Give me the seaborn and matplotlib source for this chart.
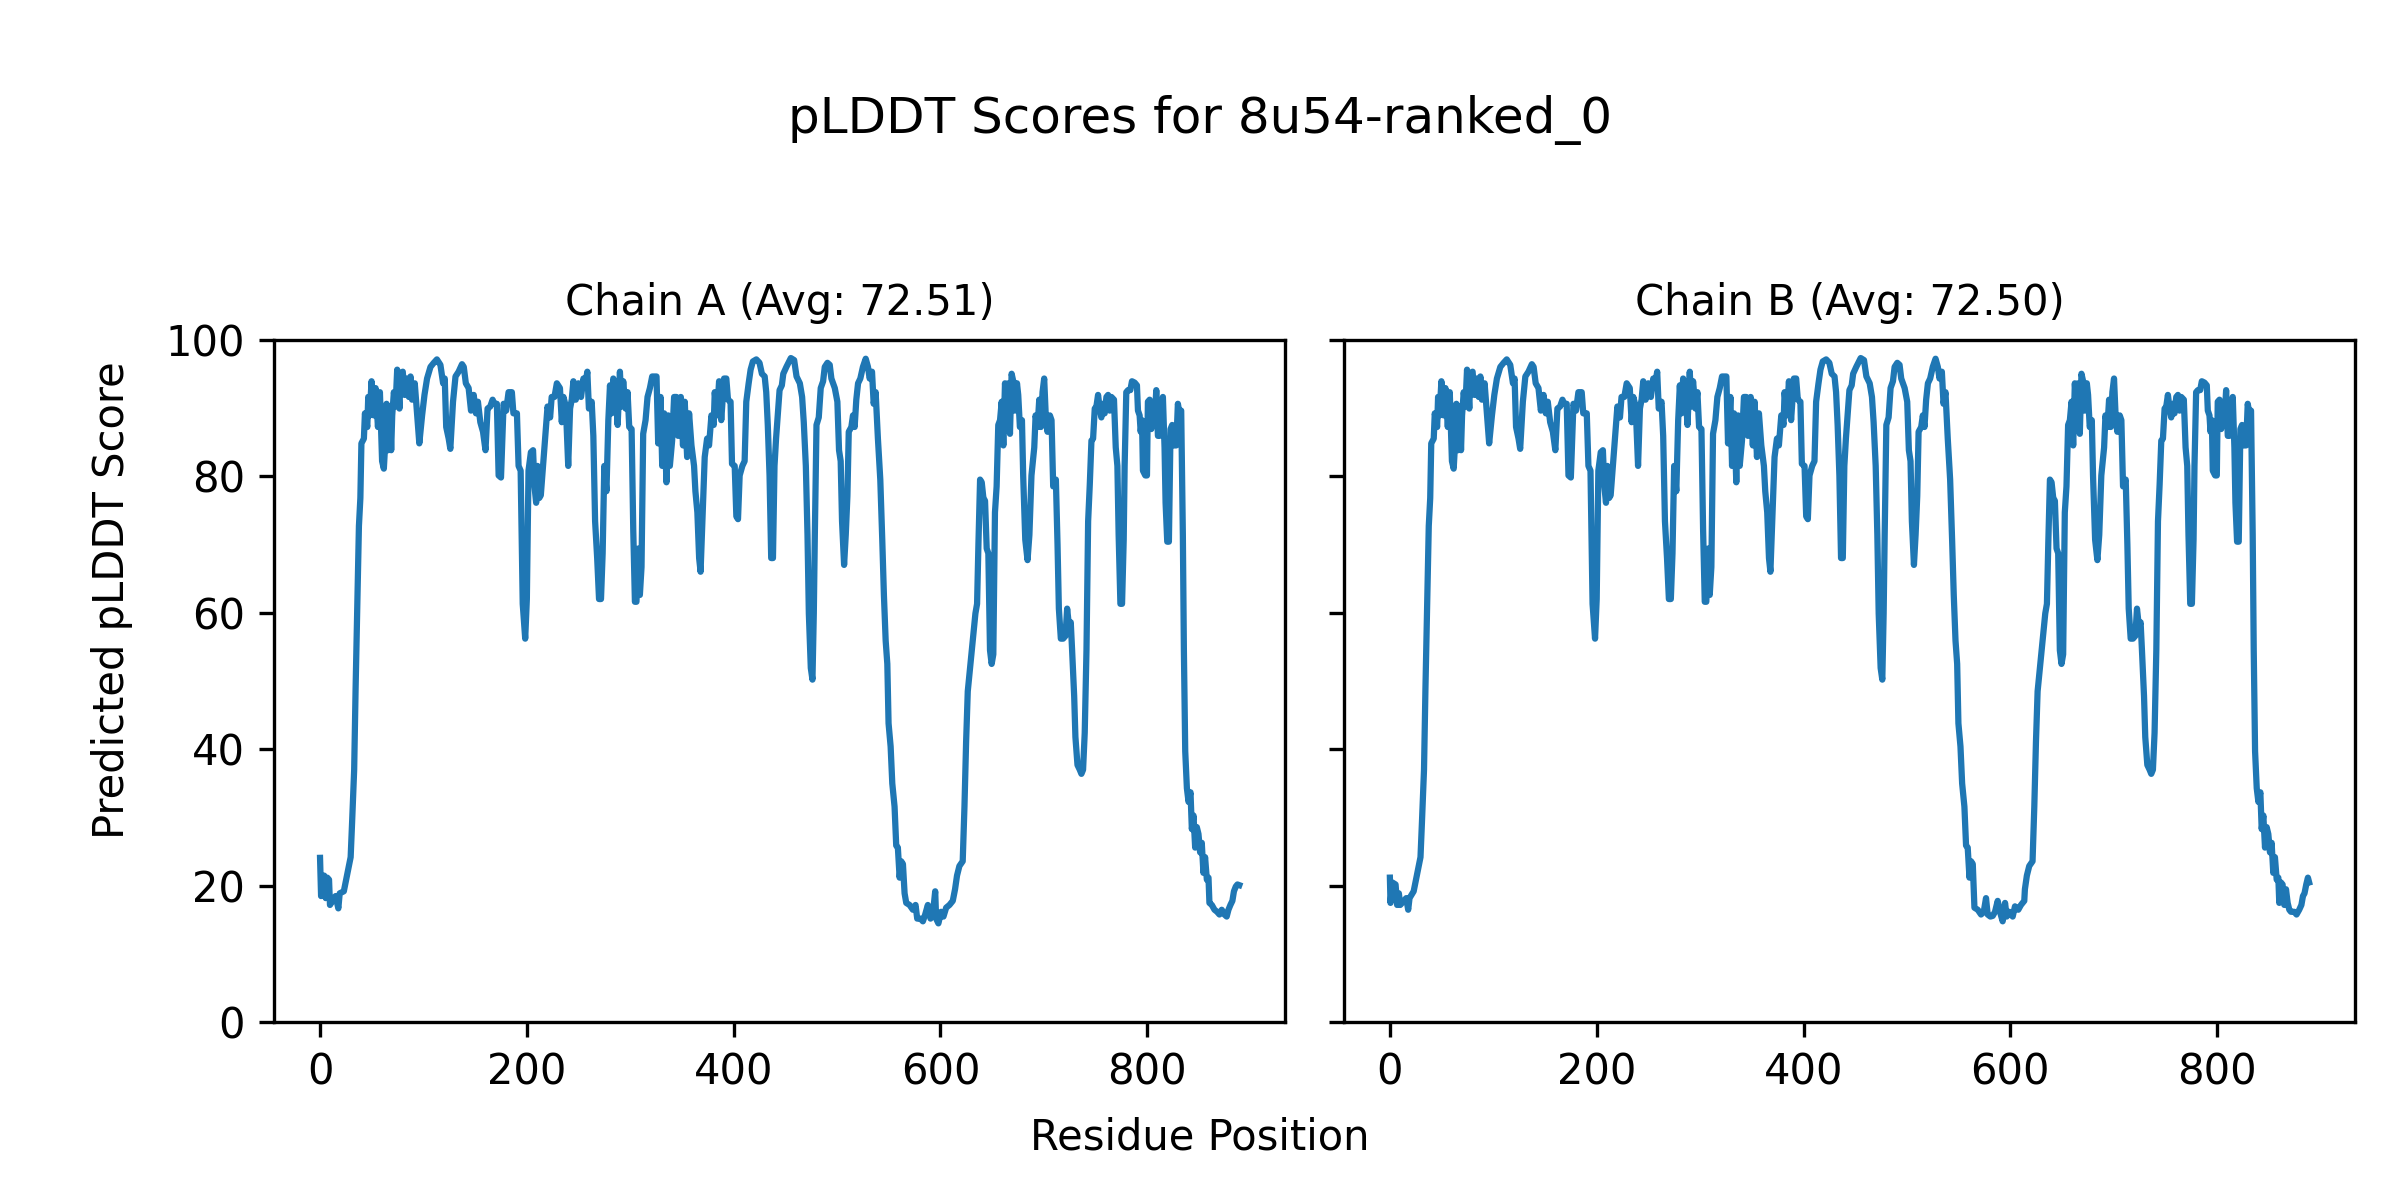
import numpy as np
import matplotlib
matplotlib.use("Agg")
import matplotlib.pyplot as plt
import seaborn as sns

model_name = "8u54-ranked_0"
chain_names = ["A", "B"]
chain_avgs = [72.51, 72.50]

# chain A (residue position, pLDDT)
chain_a_pos = [
    0, 1, 4, 5.5, 7, 8.7, 9.6, 12, 15, 17.7, 19, 23, 26, 29.6, 31, 33, 34.4, 36, 37.6, 39,
    40, 42.4, 43.4, 45.7, 46.6, 48, 49.8, 52, 53.7, 56, 57.9, 60, 61.7, 63.3, 64.3, 66, 67.5, 68.8, 69.8, 71.4,
    73, 74.6, 76.8, 77.8, 80, 81.7, 83.6, 85.9, 87.5, 89, 91.6, 93.9, 96, 98.7, 101, 103.5, 106.8, 110, 113, 116.4,
    119, 120.6, 122, 124.4, 126, 128.6, 131, 134, 137.3, 139, 141, 143.7, 146, 148.6, 150.8, 152.7, 155, 157.6, 160, 162,
    164.6, 166.9, 168.5, 171, 172.7, 175, 177.5, 180, 182.3, 185.5, 187, 190.4, 192, 194, 196, 198.4, 200, 201.6, 203.9, 206,
    207.4, 209, 210.3, 212, 213.5, 216, 217.7, 220, 222.5, 224, 226.7, 229, 232, 233.8, 235.4, 237.7, 240, 241.8, 243.4, 245,
    247.3, 249.8, 252.4, 254.7, 256.3, 258.5, 260, 262.7, 264.3, 266, 268, 269.8, 271.7, 273.3, 274.9, 277, 278.8, 280.4, 282, 283.6,
    285.9, 287.8, 290, 291.6, 293.2, 295.5, 297.4, 299, 301.3, 302.9, 304.5, 306, 307.7, 309.3, 310.9, 312.5, 314.8, 316.7, 319, 321.2,
    325.4, 327, 329.3, 330.9, 332.8, 335, 336.7, 338.3, 340.5, 342.4, 344.7, 346.3, 348.9, 351, 352.7, 355, 356.9, 359.2, 361.7, 363,
    364.9, 366.6, 368, 370.4, 372, 374.3, 376.2, 378.5, 380.7, 381.7, 383.9, 385.9, 388, 390.7, 392.9, 394.5, 397, 398.4, 401, 402.6,
    404.2, 405.8, 408.4, 410.6, 412.2, 414.5, 416.4, 418.6, 421.9, 425, 427.3, 430, 431.5, 433, 434.7, 436.3, 438, 439.5, 441, 442.8,
    444.4, 446.6, 448, 451, 455.3, 458.5, 460.8, 464, 466.2, 467.8, 469.8, 471.4, 472.7, 474.6, 476.2, 477.5, 478.5, 480.1, 482.3, 484.2,
    486.5, 488.1, 490.7, 492.9, 494.5, 497.8, 500.3, 501.9, 503.5, 504.8, 506.8, 508.4, 510, 511.3, 513.8, 515.4, 517, 518.6, 520.3, 522.5,
    525, 527.7, 529.9, 531.5, 533.8, 535.4, 537.3, 539.5, 541.8, 543.7, 545.3, 547, 548.6, 549.8, 551.8, 553.4, 555.6, 557.2, 558.8, 560.5,
    562, 563.7, 565.3, 566.9, 570.1, 573.3, 575.9, 577.5, 580.7, 583, 585.2, 587.8, 590.4, 592.6, 594.9, 595.8, 598, 600.6, 602.9, 605.5,
    608.7, 611.9, 614.1, 616, 618.3, 621.5, 623.2, 624.8, 626.4, 628.6, 630.2, 631.8, 633.8, 635.4, 636.7, 638.3, 639.9, 641.5, 643.1, 644.7,
    646.3, 647.9, 649.5, 651.1, 652.7, 654.3, 655.9, 657.6, 659.2, 660.8, 662.4, 664, 665.6, 667.2, 668.8, 670.4, 672, 674, 675.2, 676.8,
    678.8, 680, 682, 684.2, 686, 688, 690.7, 692, 693.9, 695.5, 697.1, 698.7, 700.3, 702, 703.5, 705.8, 707.4, 709, 711.6, 713.2,
    714.5, 716.4, 718.6, 720.9, 722.5, 724.4, 726, 727.3, 729.3, 730.5, 732.5, 734.7, 736.3, 737.9, 739.5, 741.2, 742.8, 744.4, 746, 747.6,
    749.2, 750.8, 752.4, 754, 755.6, 757.2, 758.8, 760.5, 762.1, 763.7, 765.3, 767.8, 769.5, 771.1, 772.3, 774, 775.6, 777.2, 778.1, 779.7,
    781.4, 783.6, 785.2, 787.8, 790, 791, 792.6, 793.6, 794.9, 795.8, 798.1, 799.7, 800.6, 802.3, 803.9, 805.5, 807.1, 808.7, 810.3, 811.9,
    813.5, 815.1, 816.7, 817.7, 819.3, 820.9, 822.5, 824.1, 825.7, 828, 829.6, 831.2, 832.8, 834.4, 835.4, 836.7, 838.3, 839.9, 841.8, 843.1,
    844.7, 846.3, 847.9, 849.5, 851.1, 852.7, 854.3, 855.9, 857.6, 859.2, 860.1, 862.4, 865, 867.5, 869.8, 872, 874.6, 876.8, 878.5, 880.4,
    882.3, 883.8, 885.6, 887.2, 889,
]
chain_a_score = [
    24.1, 18.5, 21.5, 18.2, 21.2, 20.9, 17.2, 17.8, 18.5, 16.7, 18.9, 19.2, 21.5, 24.2, 29.3, 37, 49, 61, 72.7, 76.8,
    84.8, 85.5, 89.2, 87.2, 91.6, 88.9, 93.9, 88.9, 92.9, 87.2, 92.3, 82.2, 81.1, 85.5, 90.6, 83.8, 90.2, 83.8, 88.9, 92.3,
    90.2, 95.6, 89.9, 95, 95.3, 91.9, 94.3, 91.6, 94.6, 91.2, 93.6, 88.9, 84.8, 88.9, 91.9, 94.3, 96, 96.6, 97.1, 96.3,
    93.6, 94.3, 87.2, 85.5, 84, 90.9, 94.6, 95.3, 96.4, 96, 93.6, 92.9, 89.6, 91.9, 89.2, 90.9, 87.9, 86.5, 83.8, 89.9,
    90.2, 91.2, 90.6, 90.6, 80.1, 79.8, 90.6, 89.6, 92.3, 92.3, 89.2, 89.2, 81.5, 80.8, 61.3, 56.2, 62, 80.8, 83.5, 83.8,
    78.5, 76.1, 81.5, 76.8, 77.2, 82.2, 85.5, 90.2, 88.6, 91.6, 91.6, 93.6, 92.9, 87.9, 91.6, 90.2, 81.5, 89.9, 91.2, 93.9,
    91.2, 93.6, 91.6, 94.3, 93.3, 95.3, 89.9, 90.9, 85.9, 73.4, 68, 62, 62, 68.7, 81.5, 77.8, 88.2, 93.3, 89.2, 94.3,
    92.3, 87.5, 95.3, 90.2, 93.9, 89.9, 92.3, 87.2, 86.9, 72.1, 61.6, 61.6, 69.4, 62.6, 66.7, 86.2, 88.2, 91.6, 92.9, 94.6,
    94.6, 84.8, 91.6, 81.5, 89.2, 79.1, 88.9, 81.5, 85.2, 91.6, 91.6, 85.9, 91.6, 84.5, 90.9, 82.8, 89.2, 84.5, 81.5, 77.8,
    74.7, 68, 66, 76.1, 82.8, 85.5, 84.5, 88.9, 87.5, 92.3, 88.9, 93.9, 88.2, 94.3, 94.3, 91.2, 90.9, 81.8, 81.5, 74.1,
    73.7, 80.1, 81.5, 82.2, 90.9, 93.6, 95.6, 96.8, 97.1, 96.6, 95, 94.6, 92.3, 87.5, 80.1, 68, 68, 81.5, 85.5, 89.2,
    92.6, 93.3, 95, 96, 97.3, 97, 94.6, 93.6, 91.6, 87.9, 81.5, 71.4, 59.9, 51.9, 50.2, 59.9, 71.4, 87.5, 88.6, 92.9,
    93.9, 96, 96.6, 96.3, 94.3, 92.9, 90.9, 83.8, 82.2, 73.4, 67, 71.4, 77.1, 86.5, 87.2, 88.9, 87.2, 91.2, 93.6, 94.3,
    96, 97.2, 96, 94.3, 95.3, 90.6, 92.3, 85.5, 79.5, 70.7, 62.6, 55.9, 52.5, 43.8, 40.4, 35, 31.6, 25.9, 25.6, 21.2,
    23.6, 23.2, 18.9, 17.5, 17.2, 16.5, 17.2, 15.2, 15.2, 14.8, 15.8, 17.2, 15.2, 15.8, 19.2, 15.2, 14.5, 16.2, 15.5, 16.8,
    17.2, 17.8, 19.5, 21.5, 22.9, 23.6, 31.6, 41.1, 48.5, 51.9, 54.5, 56.9, 59.9, 61.3, 70, 79.5, 79.1, 76.8, 76.4, 69.4,
    68.7, 54.5, 52.5, 53.9, 74.7, 78.5, 87.5, 88.2, 90.9, 84.5, 93.6, 89.9, 93.6, 86.2, 95, 93.9, 89.6, 93.6, 91.9, 87.2,
    88.2, 80, 70.7, 67.7, 71.4, 80.1, 84.2, 88.9, 87.2, 91.2, 87.2, 92.3, 94.3, 88.2, 86.5, 88.9, 88.2, 78.5, 79.5, 70,
    60.6, 56.2, 56.2, 56.6, 60.6, 57.9, 58.6, 54.5, 47.8, 41.8, 37.7, 37, 36.4, 37, 42.4, 54.5, 73.4, 78.8, 85.2, 85.5,
    89.9, 90.2, 91.9, 89.9, 88.6, 90.6, 89.2, 91.6, 91.9, 89.6, 91.6, 91.2, 84.2, 81.5, 71.4, 61.3, 61.3, 70.7, 81.5, 92.3,
    92.6, 92.6, 93.9, 93.7, 93.3, 89.6, 88.9, 86.5, 88.2, 80.8, 80.1, 80.1, 90.9, 91.2, 86.9, 90.2, 88.2, 92.6, 85.9, 85.9,
    89.6, 91.6, 84.2, 76.1, 70.4, 70.4, 86.9, 87.5, 84.5, 84.5, 90.6, 89.2, 89.6, 71.4, 54.5, 39.7, 34.3, 32.3, 33.7, 28.3,
    30.3, 25.6, 28.6, 27.6, 24.9, 26.3, 21.9, 24.2, 20.9, 21.2, 17.5, 17.2, 16.5, 16.2, 15.8, 16.5, 15.8, 15.5, 16.5, 17.2,
    17.8, 19.2, 19.9, 20.2, 20.1,
]

# chain B follows chain A closely; these are the stretches where it differs
chain_b_start_pos = [0, 0.6, 2.3, 5.5, 7, 8.7, 10, 13.5, 15.8, 17.7, 19]
chain_b_start_score = [21.2, 17.5, 20.5, 20.2, 17.2, 18.9, 17.2, 17.8, 18.2, 16.5, 18.2]
chain_b_trough_pos = [565.3, 568.5, 571.7, 574.3, 576.5, 578.1, 580.7, 583, 585.2, 587.8,
                      590, 592.6, 594.9, 596.5, 599, 602.3, 604.5, 607.7, 610.3, 613.5]
chain_b_trough_score = [16.8, 16.5, 15.8, 16.2, 18.2, 15.8, 15.5, 15.6, 16.2, 17.8,
                        16.2, 14.8, 17.5, 15.5, 16.2, 15.5, 17, 16.5, 17.2, 17.8]
chain_b_tail_pos = [861.7, 863.3, 865, 866.6, 868.2, 869.8, 871.4, 874.6, 876.8, 879.4,
                    881.5, 883, 884.5, 886.2, 887.8, 889]
chain_b_tail_score = [20.5, 20.2, 17.2, 19.5, 17.5, 16.5, 16.2, 16.2, 15.8, 16.5,
                      17.2, 18.5, 18.9, 20.2, 21.2, 20.5]


def splice(pos, score, seg_pos, seg_score):
    pos = np.asarray(pos, dtype=float)
    score = np.asarray(score, dtype=float)
    keep = (pos < seg_pos[0]) | (pos > seg_pos[-1])
    new_pos = np.concatenate([pos[keep], seg_pos])
    new_score = np.concatenate([score[keep], seg_score])
    order = np.argsort(new_pos)
    return new_pos[order], new_score[order]


b_pos, b_score = splice(chain_a_pos, chain_a_score, chain_b_start_pos, chain_b_start_score)
b_pos, b_score = splice(b_pos, b_score, chain_b_trough_pos, chain_b_trough_score)
b_pos, b_score = splice(b_pos, b_score, chain_b_tail_pos, chain_b_tail_score)

chains = [(chain_a_pos, chain_a_score), (b_pos, b_score)]

fig, axes = plt.subplots(1, 2, figsize=(8, 4), dpi=300, sharey=True)

for ax, name, avg, (pos, score) in zip(axes, chain_names, chain_avgs, chains):
    sns.lineplot(x=pos, y=score, ax=ax, color="#1f77b4", linewidth=1.5)
    ax.set_title(f"Chain {name} (Avg: {avg:.2f})", fontsize=10)
    ax.set_xlabel("")
    ax.set_ylabel("")
    ax.set_ylim(0, 100)

fig.suptitle(f"pLDDT Scores for {model_name}", fontsize=12, y=0.9, va="center")
fig.supxlabel("Residue Position", fontsize=10, y=0.052, va="center")
fig.supylabel("Predicted pLDDT Score", fontsize=10, x=0.0466, ha="center", va="center")
fig.subplots_adjust(left=0.1142, right=0.9813, bottom=0.148, top=0.717, wspace=0.058)
fig.savefig("out.png", dpi=300)
